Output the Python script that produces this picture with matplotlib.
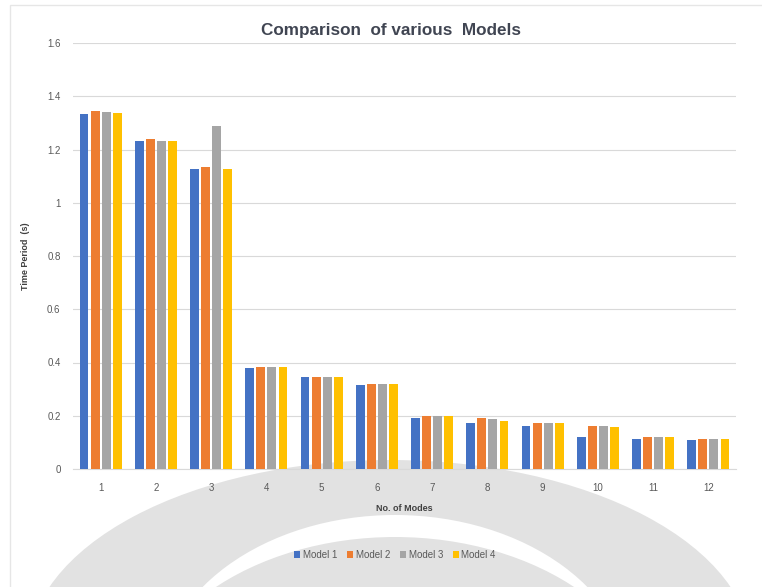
import matplotlib
matplotlib.use("Agg")
import matplotlib.pyplot as plt
import matplotlib.patches as patches
import numpy as np

# Data
categories = ["1", "2", "3", "4", "5", "6", "7", "8", "9", "10", "11", "12"]
model_1 = [1.332, 1.233, 1.128, 0.380, 0.344, 0.315, 0.190, 0.172, 0.161, 0.121, 0.114, 0.109]
model_2 = [1.346, 1.239, 1.135, 0.384, 0.345, 0.320, 0.198, 0.193, 0.172, 0.161, 0.120, 0.114]
model_3 = [1.340, 1.233, 1.288, 0.384, 0.345, 0.320, 0.198, 0.187, 0.172, 0.161, 0.120, 0.114]
model_4 = [1.338, 1.233, 1.127, 0.384, 0.345, 0.320, 0.198, 0.181, 0.172, 0.157, 0.120, 0.114]
series_names = ["Model 1", "Model 2", "Model 3", "Model 4"]
series_colors = ["#4472C4", "#ED7D31", "#A5A5A5", "#FFC000"]
y_ticks = [0, 0.2, 0.4, 0.6, 0.8, 1.0, 1.2, 1.4, 1.6]
y_tick_labels = ["0", "0.2", "0.4", "0.6", "0.8", "1", "1.2", "1.4", "1.6"]

W, H = 762, 587
plt.rcParams['font.family'] = ['Liberation Sans', 'DejaVu Sans']
fig = plt.figure(figsize=(W / 100, H / 100), dpi=100)
fig.patch.set_facecolor("white")

def ell(xc, yc, a, b, color):
    # ellipse given in pixel coords of the picture (y from top)
    return patches.Ellipse((xc / W, 1 - yc / H), 2 * a / W, 2 * b / H,
                           transform=fig.transFigure, facecolor=color,
                           edgecolor="none", zorder=0)

# grey watermark arcs behind the chart
fig.patches.append(ell(390, 652, 362, 192, "#e2e2e2"))
fig.patches.append(ell(395, 690, 238, 175, "white"))
fig.patches.append(ell(395, 722, 262, 185, "#e2e2e2"))

# chart border
fig.patches.append(patches.Rectangle((10 / W, -0.01), 1.0, 1 - 5 / H + 0.01,
                                     transform=fig.transFigure, fill=False,
                                     edgecolor="#e6e6e6", linewidth=1, zorder=1))

ax = fig.add_axes([73 / W, 1 - 469 / H, (736 - 73) / W, (469 - 43) / H])
ax.patch.set_alpha(0)
ax.set_zorder(2)

x = np.arange(len(categories))
step = 0.2
width = 0.16
all_series = [model_1, model_2, model_3, model_4]
for i, (vals, name, col) in enumerate(zip(all_series, series_names, series_colors)):
    ax.bar(x + (i - 1.5) * step, vals, width=width, color=col, label=name, zorder=3)

ax.set_xlim(-0.5, len(categories) - 0.5)
ax.set_ylim(0, 1.6)
ax.set_yticks(y_ticks)
ax.set_yticklabels(y_tick_labels)
ax.set_xticks(x)
ax.set_xticklabels(categories)
ax.tick_params(axis="both", length=0, labelsize=7, labelcolor="#595959")
ax.tick_params(axis="y", pad=9)
ax.tick_params(axis="x", pad=10)
ax.grid(axis="y", color="#d9d9d9", linewidth=0.8, zorder=0)
for s in ["top", "right", "left"]:
    ax.spines[s].set_visible(False)
ax.spines["bottom"].set_color("#d9d9d9")

fig.text(391 / W, 1 - 31 / H, "Comparison  of various  Models", fontsize=12.3, color="#404552",
         fontweight="bold", family=["Liberation Sans Narrow", "Liberation Sans"],
         ha="center", va="center")
ax.set_xlabel("No. of Modes", fontsize=6.5, color="#404040", fontweight="bold", labelpad=8)
ax.set_ylabel("Time Period  (s)", fontsize=6.5, color="#404040", fontweight="bold", labelpad=12)

leg = fig.legend(loc="center", bbox_to_anchor=(395 / W, 1 - 555 / H), ncol=4, frameon=False,
                 fontsize=7, handlelength=0.6, handleheight=0.6, handletextpad=0.3,
                 columnspacing=1.0, labelcolor="#595959")
leg.set_zorder(3)

fig.savefig("out.png", dpi=100)
